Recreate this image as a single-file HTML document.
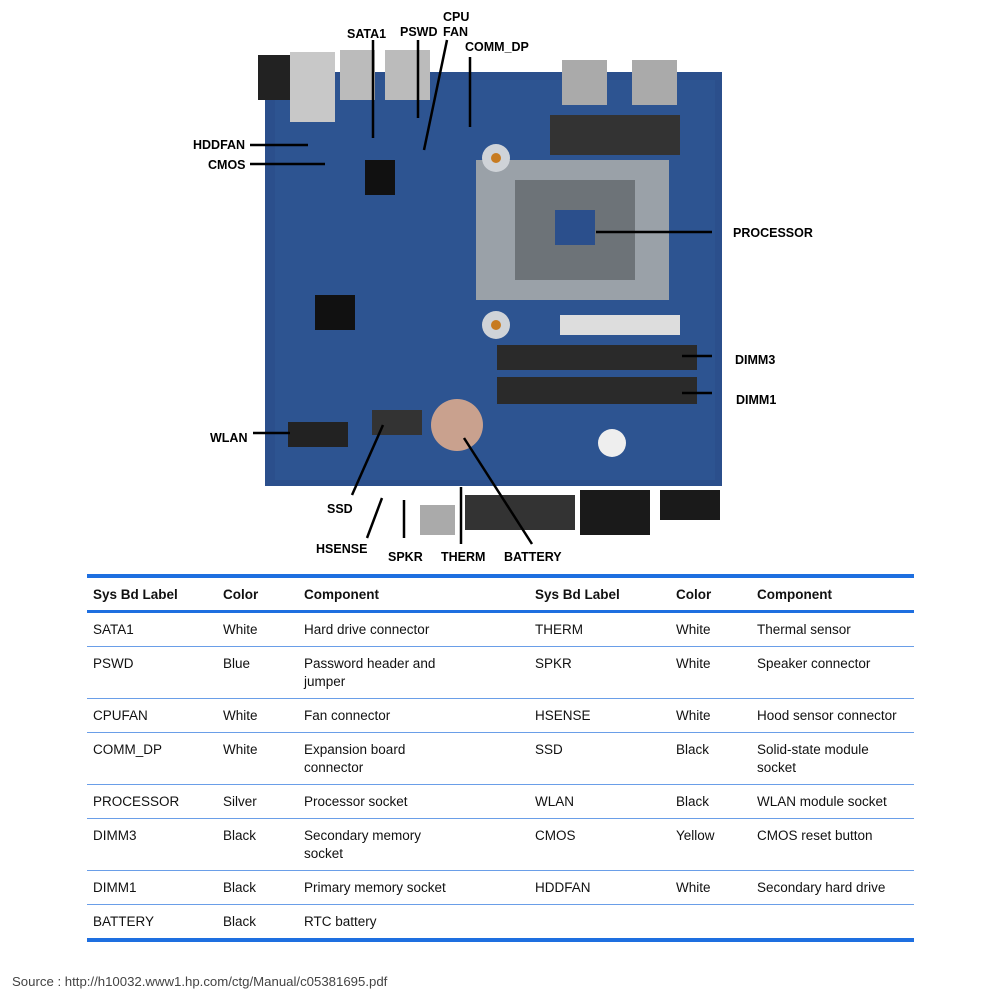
<!DOCTYPE html>
<html><head><meta charset="utf-8"><style>
body{margin:0;background:#fff;width:1000px;height:1000px;position:relative;overflow:hidden;font-family:"Liberation Sans",sans-serif}
svg{position:absolute;left:0;top:0}
table{position:absolute;left:87px;top:574px;width:827px;border-collapse:collapse;font-family:"Liberation Sans",sans-serif;font-size:13.5px;color:#111}
td,th{text-align:left;vertical-align:top;padding:8px 6px 7px 6px;line-height:18px;border-bottom:1px solid #6a9ee8}
th{font-weight:bold;border-top:4px solid #1e6fe0;border-bottom:3px solid #1e6fe0;padding:8px 6px 6px}
tr:last-child td{border-bottom:4px solid #1e6fe0}
.src{position:absolute;left:12px;top:974px;font-size:13.2px;color:#444}
</style></head><body>
<svg width="1000" height="570" viewBox="0 0 1000 570">
<rect x="195" y="10" width="540" height="555" fill="#fff"/>
<polygon points="265,72 722,72 722,486 265,486" fill="#2b4f8c"/>
<rect x="275" y="80" width="440" height="400" fill="#2f5895" opacity=".6"/>
<rect x="258" y="55" width="35" height="45" fill="#222"/>
<rect x="290" y="52" width="45" height="70" fill="#c8c8c8"/>
<rect x="340" y="50" width="35" height="50" fill="#bbb"/>
<rect x="385" y="50" width="45" height="50" fill="#bbb"/>
<rect x="562" y="60" width="45" height="45" fill="#aaa"/>
<rect x="632" y="60" width="45" height="45" fill="#aaa"/>
<rect x="550" y="115" width="130" height="40" fill="#333"/>
<rect x="476" y="160" width="193" height="140" fill="#9aa1a8"/>
<rect x="515" y="180" width="120" height="100" fill="#6d7378"/>
<rect x="555" y="210" width="40" height="35" fill="#2b4f8c"/>
<circle cx="496" cy="158" r="14" fill="#cfd3d8"/><circle cx="496" cy="158" r="5" fill="#c77b21"/>
<circle cx="496" cy="325" r="14" fill="#cfd3d8"/><circle cx="496" cy="325" r="5" fill="#c77b21"/>
<rect x="560" y="315" width="120" height="20" fill="#ddd"/>
<rect x="497" y="345" width="200" height="25" fill="#2a2a2a"/>
<rect x="497" y="377" width="200" height="27" fill="#2a2a2a"/>
<circle cx="457" cy="425" r="26" fill="#c9a18e"/>
<circle cx="612" cy="443" r="14" fill="#eee"/>
<rect x="288" y="422" width="60" height="25" fill="#222"/>
<rect x="372" y="410" width="50" height="25" fill="#333"/>
<rect x="315" y="295" width="40" height="35" fill="#111"/>
<rect x="365" y="160" width="30" height="35" fill="#111"/>
<rect x="465" y="495" width="110" height="35" fill="#333"/>
<rect x="580" y="490" width="70" height="45" fill="#1a1a1a"/>
<rect x="660" y="490" width="60" height="30" fill="#1a1a1a"/>
<rect x="420" y="505" width="35" height="30" fill="#aaa"/>
<g stroke="#000" stroke-width="2.5" fill="none">
<line x1="250" y1="145" x2="308" y2="145"/><line x1="250" y1="164" x2="325" y2="164"/>
<line x1="373" y1="40" x2="373" y2="138"/><line x1="418" y1="40" x2="418" y2="118"/>
<line x1="447" y1="40" x2="424" y2="150"/><line x1="470" y1="57" x2="470" y2="127"/>
<line x1="712" y1="232" x2="596" y2="232"/><line x1="712" y1="356" x2="682" y2="356"/>
<line x1="712" y1="393" x2="682" y2="393"/><line x1="253" y1="433" x2="290" y2="433"/>
<line x1="352" y1="495" x2="383" y2="425"/><line x1="367" y1="538" x2="382" y2="498"/>
<line x1="404" y1="538" x2="404" y2="500"/><line x1="461" y1="544" x2="461" y2="487"/>
<line x1="532" y1="544" x2="464" y2="438"/>
</g>
<g font-family="Liberation Sans,sans-serif" font-weight="bold" font-size="12.5" fill="#000">
<text x="347" y="38">SATA1</text><text x="400" y="36">PSWD</text>
<text x="443" y="21">CPU</text><text x="443" y="36">FAN</text>
<text x="465" y="51">COMM_DP</text><text x="193" y="149">HDDFAN</text><text x="208" y="169">CMOS</text>
<text x="733" y="237">PROCESSOR</text><text x="735" y="364">DIMM3</text><text x="736" y="404">DIMM1</text>
<text x="210" y="442">WLAN</text><text x="327" y="513">SSD</text><text x="316" y="553">HSENSE</text>
<text x="388" y="561">SPKR</text><text x="441" y="561">THERM</text><text x="504" y="561">BATTERY</text>
</g>
</svg>
<table>
<tr><th style="width:118px">Sys Bd Label</th><th style="width:69px">Color</th><th style="width:219px">Component</th><th style="width:129px">Sys Bd Label</th><th style="width:69px">Color</th><th>Component</th></tr>
<tr><td>SATA1</td><td>White</td><td>Hard drive connector</td><td>THERM</td><td>White</td><td>Thermal sensor</td></tr>
<tr><td>PSWD</td><td>Blue</td><td>Password header and<br>jumper</td><td>SPKR</td><td>White</td><td>Speaker connector</td></tr>
<tr><td>CPUFAN</td><td>White</td><td>Fan connector</td><td>HSENSE</td><td>White</td><td>Hood sensor connector</td></tr>
<tr><td>COMM_DP</td><td>White</td><td>Expansion board<br>connector</td><td>SSD</td><td>Black</td><td>Solid-state module<br>socket</td></tr>
<tr><td>PROCESSOR</td><td>Silver</td><td>Processor socket</td><td>WLAN</td><td>Black</td><td>WLAN module socket</td></tr>
<tr><td>DIMM3</td><td>Black</td><td>Secondary memory<br>socket</td><td>CMOS</td><td>Yellow</td><td>CMOS reset button</td></tr>
<tr><td>DIMM1</td><td>Black</td><td>Primary memory socket</td><td>HDDFAN</td><td>White</td><td>Secondary hard drive</td></tr>
<tr><td>BATTERY</td><td>Black</td><td>RTC battery</td><td></td><td></td><td></td></tr>
</table>
<div class="src">Source : http://h10032.www1.hp.com/ctg/Manual/c05381695.pdf</div>
</body></html>
